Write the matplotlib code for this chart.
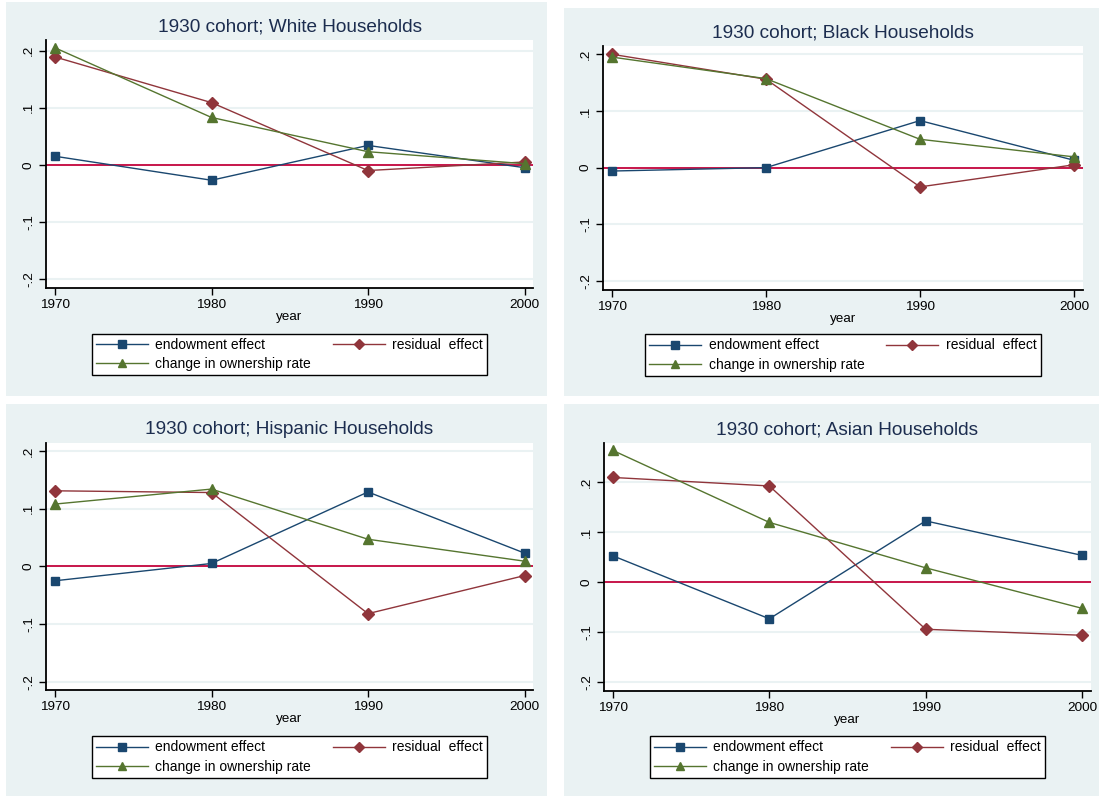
import matplotlib
matplotlib.use("Agg")
import matplotlib.pyplot as plt
from matplotlib.patches import Rectangle

plt.rcParams['font.family'] = ['Liberation Sans', 'DejaVu Sans']

# Data
years = [1970, 1980, 1990, 2000]

white_endow = [0.015, -0.027, 0.034, -0.005]
white_resid = [0.189, 0.109, -0.010, 0.005]
white_change = [0.205, 0.083, 0.023, 0.002]

black_endow = [-0.006, 0.000, 0.083, 0.013]
black_resid = [0.200, 0.156, -0.034, 0.005]
black_change = [0.195, 0.157, 0.050, 0.019]

hisp_endow = [-0.025, 0.005, 0.129, 0.023]
hisp_resid = [0.131, 0.128, -0.082, -0.016]
hisp_change = [0.108, 0.134, 0.047, 0.009]

asian_endow = [0.052, -0.074, 0.122, 0.053]
asian_resid = [0.209, 0.192, -0.095, -0.107]
asian_change = [0.263, 0.119, 0.028, -0.053]

groups = ["White", "Black", "Hispanic", "Asian"]
yticks = [-0.2, -0.1, 0, 0.1, 0.2]
ytick_labels = ["-.2", "-.1", "0", ".1", ".2"]
series_labels = ["endowment effect", "residual  effect", "change in ownership rate"]

# Stata s2color-like styling
NAVY = "#1a476f"
MAROON = "#90353b"
GREEN = "#55752f"
ZERO_RED = "#c8164a"
BG = "#eaf2f3"
TITLE_C = "#1c2d4f"

W, H = 1099, 796
fig = plt.figure(figsize=(W / 100, H / 100), dpi=100)
fig.patch.set_facecolor("white")


def fx(x):
    return x / W


def fy(y):
    return 1 - y / H


# panel background, axes box (pixels: left, top, right, bottom), x pixel of 1970/2000,
# ylim, legend box
panels = [
    dict(bg=(6, 2, 547, 396), ax=(46, 40, 533, 288), xpx=(55, 524.5),
         ylim=(-0.2158, 0.2187), leg=(91, 332, 488, 377),
         data=(white_endow, white_resid, white_change)),
    dict(bg=(564, 8, 1099, 396), ax=(603, 46, 1083, 290), xpx=(612, 1074),
         ylim=(-0.2159, 0.2146), leg=(648, 333, 1038, 377),
         data=(black_endow, black_resid, black_change)),
    dict(bg=(6, 404, 547, 796), ax=(46, 443, 533, 690), xpx=(55, 524.5),
         ylim=(-0.2144, 0.2139), leg=(91, 735, 488, 779),
         data=(hisp_endow, hisp_resid, hisp_change)),
    dict(bg=(564, 404, 1099, 796), ax=(604, 443, 1091, 691), xpx=(613, 1082),
         ylim=(-0.2186, 0.278), leg=(649, 735, 1046, 779),
         data=(asian_endow, asian_resid, asian_change)),
]

for group, p in zip(groups, panels):
    l, t, r, b = p["bg"]
    fig.patches.append(Rectangle((fx(l), fy(b)), fx(r - l), (b - t) / H,
                                 transform=fig.transFigure, facecolor=BG,
                                 edgecolor="none", zorder=-5))

    al, at, ar, ab = p["ax"]
    ax = fig.add_axes([fx(al), fy(ab), fx(ar - al), (ab - at) / H])
    ax.set_facecolor("white")

    x0, x1 = p["xpx"]
    per_px = 30 / (x1 - x0)
    ax.set_xlim(1970 - (x0 - al) * per_px, 2000 + (ar - x1) * per_px)
    ax.set_ylim(*p["ylim"])

    for yv in yticks:
        ax.axhline(yv, color=BG, lw=1.5, zorder=1)
    ax.axhline(0, color=ZERO_RED, lw=1.4, zorder=2)

    endow, resid, change = p["data"]
    h1, = ax.plot(years, endow, color=NAVY, lw=1.0, marker="s", ms=5.5, zorder=3)
    h2, = ax.plot(years, resid, color=MAROON, lw=1.0, marker="D", ms=5.8, zorder=3)
    h3, = ax.plot(years, change, color=GREEN, lw=1.0, marker="^", ms=6.5, zorder=3)

    ax.set_xticks(years)
    ax.set_xticklabels([str(y) for y in years], fontsize=9.7)
    ax.set_yticks(yticks)
    ax.set_yticklabels(ytick_labels, fontsize=9.7, rotation=90, va="center")
    ax.tick_params(direction="out", length=5, width=1, color="black", pad=3)

    for side in ["top", "right"]:
        ax.spines[side].set_visible(False)
    for side in ["left", "bottom"]:
        ax.spines[side].set_linewidth(1.3)
        ax.spines[side].set_color("black")

    ax.set_xlabel("year", fontsize=9.7, labelpad=0)

    # title is centred over the plot region
    fig.text(fx((al + ar) / 2), fy(at - 13), "1930 cohort; " + group + " Households",
             ha="center", va="center", fontsize=13.7, color=TITLE_C)

    ll, lt, lr, lb = p["leg"]
    leg = ax.legend([h1, h3, h2], [series_labels[0], series_labels[2], series_labels[1]],
                    ncol=2, loc="center",
                    bbox_to_anchor=(fx((ll + lr) / 2), fy((lt + lb) / 2)),
                    bbox_transform=fig.transFigure, fontsize=10,
                    handlelength=3.75, handletextpad=0.55, columnspacing=1.55,
                    labelspacing=0.38, borderpad=0.3, borderaxespad=0,
                    fancybox=False, framealpha=1, edgecolor="black")
    leg.get_frame().set_linewidth(1.0)
    for lh in leg.legend_handles:
        lh.set_markersize(5.5)

fig.savefig("out.png", dpi=100, facecolor="white")
